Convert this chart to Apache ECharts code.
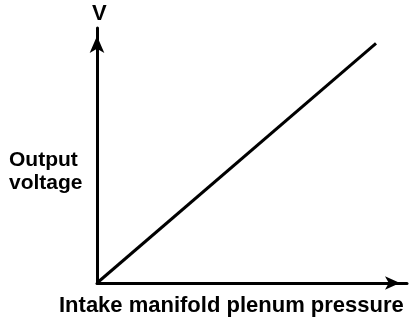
<!DOCTYPE html>
<html>
<head>
<meta charset="utf-8">
<script src="https://cdn.jsdelivr.net/npm/echarts@6/dist/echarts.min.js"></script>
<style>html,body{margin:0;padding:0;background:#fff}#c{width:416px;height:326px}</style>
</head>
<body>
<div id="c"></div>
<script>
var xRange = [0, 100];
var yRange = [0, 100];
var lineX = [0, 90];
var lineY = [0, 94];
var yLabel = 'V';
var yTitle = 'Output\nvoltage';
var xTitle = 'Intake manifold plenum pressure';

var chart = echarts.init(document.getElementById('c'), null, {renderer: 'canvas'});
var font = '"Liberation Sans", Arial, sans-serif';
chart.setOption({
  animation: false,
  backgroundColor: '#fff',
  grid: {left: 97, right: 9, top: 28, bottom: 43, containLabel: false},
  xAxis: {
    type: 'value', min: xRange[0], max: xRange[1],
    axisLine: {show: true, onZero: false, symbol: ['none', 'arrow'], symbolSize: [10, 15], symbolOffset: [0, -7], lineStyle: {color: '#000', width: 3}},
    axisTick: {show: false}, axisLabel: {show: false}, splitLine: {show: false}
  },
  yAxis: {
    type: 'value', min: yRange[0], max: yRange[1],
    axisLine: {show: true, onZero: false, symbol: ['none', 'arrow'], symbolSize: [11, 17], symbolOffset: [0, -8], lineStyle: {color: '#000', width: 3}},
    axisTick: {show: false}, axisLabel: {show: false}, splitLine: {show: false}
  },
  series: [{
    type: 'line',
    data: lineX.map(function (x, i) { return [x, lineY[i]]; }),
    symbol: 'none',
    lineStyle: {color: '#000', width: 3},
    silent: true
  }],
  graphic: [
    {type: 'text', left: 92, top: 3, style: {text: yLabel, font: 'bold 22px ' + font, fill: '#000'}},
    {type: 'text', left: 9, top: 149, style: {text: yTitle, font: 'bold 21px ' + font, fill: '#000', lineHeight: 23}},
    {type: 'text', left: 59, top: 295, style: {text: xTitle, font: 'bold 22px ' + font, fill: '#000'}}
  ]
});
</script>
</body>
</html>
